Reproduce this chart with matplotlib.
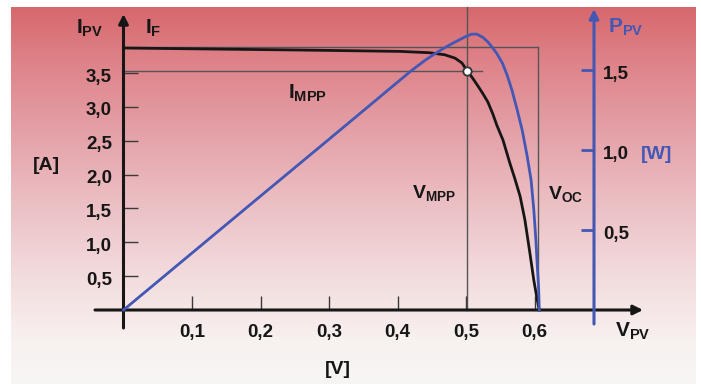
import numpy as np
import matplotlib
matplotlib.use('Agg')
import matplotlib.pyplot as plt

# Kennlinie (I-V) und Leistung (P-V) einer Solarzelle
v_i = [0, 0.258, 0.404, 0.447, 0.469, 0.484, 0.494, 0.502, 0.510, 0.518,
       0.525, 0.532, 0.539, 0.545, 0.554, 0.564, 0.571, 0.579, 0.586,
       0.593, 0.599, 0.604, 0.607]
i_pv = [3.87, 3.84, 3.82, 3.80, 3.77, 3.72, 3.65, 3.53, 3.42, 3.30,
        3.19, 3.07, 2.90, 2.73, 2.51, 2.17, 1.95, 1.68, 1.33,
        0.86, 0.44, 0.15, 0.0]

v_p = [0, 0.10, 0.20, 0.30, 0.404, 0.42, 0.44, 0.455, 0.469, 0.481, 0.491,
       0.500, 0.508, 0.516, 0.525, 0.532, 0.538, 0.545, 0.553, 0.560,
       0.567, 0.574, 0.582, 0.589, 0.595, 0.599, 0.602, 0.604, 0.606, 0.607]
p_pv = [0, 0.356, 0.712, 1.067, 1.438, 1.495, 1.560, 1.603, 1.640, 1.668, 1.690,
        1.710, 1.724, 1.724, 1.703, 1.675, 1.644, 1.603, 1.544, 1.469,
        1.375, 1.263, 1.125, 0.969, 0.813, 0.625, 0.438, 0.281, 0.138, 0.0]

i_f = 3.88
v_mpp, i_mpp = 0.502, 3.53
v_oc = 0.605

v_ticks = [0.1, 0.2, 0.3, 0.4, 0.5, 0.6]
v_labels = ['0,1', '0,2', '0,3', '0,4', '0,5', '0,6']
i_ticks = [0.5, 1.0, 1.5, 2.0, 2.5, 3.0, 3.5]
i_labels = ['0,5', '1,0', '1,5', '2,0', '2,5', '3,0', '3,5']
p_ticks = [0.5, 1.0, 1.5]
p_labels = ['0,5', '1,0', '1,5']

plt.rcParams['font.family'] = ['Liberation Sans', 'DejaVu Sans']
plt.rcParams['mathtext.fontset'] = 'custom'
plt.rcParams['mathtext.rm'] = 'Liberation Sans:bold'
plt.rcParams['mathtext.it'] = 'Liberation Sans:bold'
plt.rcParams['mathtext.bf'] = 'Liberation Sans:bold'

W, H = 701, 384
BLUE = '#4357b5'
DARK = '#161616'
GRID = '#555555'

fig = plt.figure(figsize=(W / 100, H / 100), dpi=100)

# Hintergrund mit Farbverlauf (rot -> weiss)
bg = fig.add_axes([11 / W, 0, (696 - 11) / W, (384 - 7) / H])
stops_y = [0, 53, 123, 183, 243, 293, 333, 377]
stops_c = np.array([[214, 104, 109], [222, 130, 136], [228, 160, 167],
                    [234, 186, 191], [240, 210, 213], [245, 228, 228],
                    [247, 241, 240], [248, 246, 244]]) / 255
yy = np.arange(377)
grad = np.stack([np.interp(yy, stops_y, stops_c[:, k]) for k in range(3)], axis=1)
bg.imshow(grad[:, None, :], aspect='auto', extent=[0, 1, 1, 0])
bg.axis('off')

# Pixel -> Daten
X0, XS = 123.5, 685.0
Y0, IS, PS = 310.0, 67.7, 160.0

ax = fig.add_axes([0, 0, 1, 1])
ax.set_xlim(-X0 / XS, (W - X0) / XS)
ax.set_ylim((Y0 - H) / IS, Y0 / IS)
ax.axis('off')
axp = ax.twinx()
axp.set_ylim((Y0 - H) / PS, Y0 / PS)
axp.axis('off')

# Hilfslinien
ax.plot([0, v_oc], [i_f, i_f], color=GRID, lw=1, zorder=2)
ax.plot([v_oc, v_oc], [0, i_f], color=GRID, lw=1, zorder=2)
ax.plot([0, v_mpp + 15 / XS], [i_mpp, i_mpp], color=GRID, lw=1, zorder=2)
ax.plot([v_mpp, v_mpp], [0, (Y0 - 7) / IS], color=GRID, lw=1, zorder=2)

# Kurven
ax.plot(v_i, i_pv, color=DARK, lw=2.0, zorder=4, solid_joinstyle='round')
ax.plot(v_mpp, i_mpp, 'o', ms=6, mfc='white', mec='#333333', mew=1.3, zorder=6)
axp.plot(v_p, p_pv, color=BLUE, lw=2.0, zorder=4, solid_joinstyle='round')

# Achsen mit Pfeilen
arrow = dict(arrowstyle='-|>', color=DARK, lw=2.2, mutation_scale=14,
             shrinkA=0, shrinkB=0)
ax.annotate('', xy=(0, (Y0 - 14) / IS), xytext=(0, (Y0 - 328) / IS),
            arrowprops=arrow, zorder=5)
ax.annotate('', xy=((643 - X0) / XS, 0), xytext=((95 - X0) / XS, 0),
            arrowprops=arrow, zorder=5)
xr = (594 - X0) / XS
arrow_b = dict(arrow, color=BLUE)
axp.annotate('', xy=(xr, (Y0 - 9) / PS), xytext=(xr, (Y0 - 324) / PS),
             arrowprops=arrow_b, zorder=5)

# Teilstriche und Beschriftungen
tick_font = dict(fontsize=13.5, fontweight='bold', color=DARK)
ax.hlines(i_ticks, 0, 14 / XS, color='#3a3a3a', lw=1, zorder=3)
for v, s in zip(i_ticks, i_labels):
    ax.text((112 - X0) / XS, v - 4 / IS, s, ha='right', va='center', **tick_font)
ax.vlines(v_ticks, 0, 14 / IS, color='#3a3a3a', lw=1, zorder=3)
for v, s in zip(v_ticks, v_labels):
    ax.text(v, -22 / IS, s, ha='center', va='center', **tick_font)
axp.hlines(p_ticks, xr - 13 / XS, xr, color=BLUE, lw=2, zorder=3)
for v, s in zip(p_ticks, p_labels):
    axp.text((603 - X0) / XS, v - 4 / PS, s, ha='left', va='center', **tick_font)


def label(px, py, s, size=15, color=DARK):
    fig.text(px / W, 1 - py / H, s, ha='center', va='center',
             fontsize=size, fontweight='bold', color=color)


label(90, 28, r'$\mathrm{I}_{\mathrm{PV}}$')
label(153, 28, r'$\mathrm{I}_{\mathrm{F}}$')
label(46, 165, '[A]', 14)
label(308, 93, r'$\mathrm{I}_{\mathrm{MPP}}$')
label(434, 193, r'$\mathrm{V}_{\mathrm{MPP}}$', 14)
label(566, 194, r'$\mathrm{V}_{\mathrm{OC}}$', 14)
label(626, 27, r'$\mathrm{P}_{\mathrm{PV}}$', 15, BLUE)
label(657, 155, '[W]', 14, BLUE)
label(633, 331, r'$\mathrm{V}_{\mathrm{PV}}$')
label(338, 369, '[V]', 14)

fig.savefig('out.png', dpi=100, facecolor='white')
